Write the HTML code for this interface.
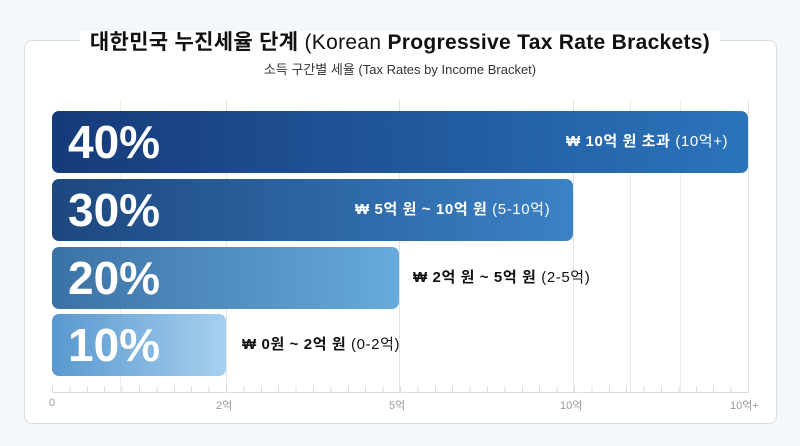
<!DOCTYPE html>
<html><head><meta charset="utf-8"><style>
body{margin:0;width:800px;height:446px;background:#f5f8fa;font-family:"Liberation Sans","Noto Sans CJK KR",sans-serif;position:relative;overflow:hidden}
.card{position:absolute;left:24px;top:40px;width:751px;height:382px;background:#fff;border:1px solid #d8dde2;border-radius:8px}
.title{position:absolute;left:0;width:800px;top:26px;text-align:center;font-size:21px;color:#111;letter-spacing:0.3px}
.title span.bg{background:#fff;padding:0 10px;font-weight:bold}
.sub{position:absolute;left:0;width:800px;top:59px;text-align:center;font-size:13px;color:#333}
.grid{position:absolute;top:100px;height:292px;width:1px;background:#ececec}
.bar{position:absolute;left:52px;height:62px;border-radius:7px}
.pct{position:absolute;left:68px;color:#fff;font-weight:bold;font-size:46px;line-height:62px}
.lab{position:absolute;font-size:15px;line-height:62px;font-weight:bold;letter-spacing:0.6px}
.lab i{font-style:normal;font-weight:normal}
.tick{position:absolute;top:397px;font-size:11px;color:#999}
</style></head><body>
<div class="card"></div>
<div class="title"><span class="bg">대한민국 누진세율 단계 <span style="font-weight:normal">(Korean </span>Progressive Tax Rate Brackets)</span></div>
<div class="sub">소득 구간별 세율 (Tax Rates by Income Bracket)</div>
<div class="grid" style="left:120px"></div><div class="grid" style="left:226px;background:#e2e2e2"></div>
<div class="grid" style="left:399px;background:#e2e2e2"></div><div class="grid" style="left:573px;background:#e2e2e2"></div>
<div class="grid" style="left:630px"></div><div class="grid" style="left:680px"></div><div class="grid" style="left:748px;background:#e2e2e2"></div>
<div style="position:absolute;left:52px;top:392px;width:697px;height:1px;background:#ddd"></div>
<div style="position:absolute;left:52px;top:386px;width:697px;height:6px;background:repeating-linear-gradient(90deg,#ddd 0 1px,transparent 1px 17.4px)"></div>
<div class="bar" style="top:111px;width:696px;background:linear-gradient(90deg,#163a7a,#2b74bb)"></div>
<div class="bar" style="top:179px;width:521px;background:linear-gradient(90deg,#1d477f,#3b82c6)"></div>
<div class="bar" style="top:247px;width:347px;background:linear-gradient(90deg,#3b72a6,#67aadb)"></div>
<div class="bar" style="top:314px;width:174px;background:linear-gradient(90deg,#5898cf,#a7d0ee)"></div>
<div class="pct" style="top:111px">40%</div>
<div class="pct" style="top:179px">30%</div>
<div class="pct" style="top:247px">20%</div>
<div class="pct" style="top:314px">10%</div>
<div class="lab" style="top:111px;left:566px;color:#fff">₩ 10억 원 초과 <i>(10억+)</i></div>
<div class="lab" style="top:179px;left:355px;color:#fff">₩ 5억 원 ~ 10억 원 <i>(5-10억)</i></div>
<div class="lab" style="top:247px;left:413px;color:#111">₩ 2억 원 ~ 5억 원 <i>(2-5억)</i></div>
<div class="lab" style="top:314px;left:242px;color:#111">₩ 0원 ~ 2억 원 <i>(0-2억)</i></div>
<div class="tick" style="left:49px">0</div>
<div class="tick" style="left:216px">2억</div>
<div class="tick" style="left:389px">5억</div>
<div class="tick" style="left:560px">10억</div>
<div class="tick" style="left:730px">10억+</div>
</body></html>
